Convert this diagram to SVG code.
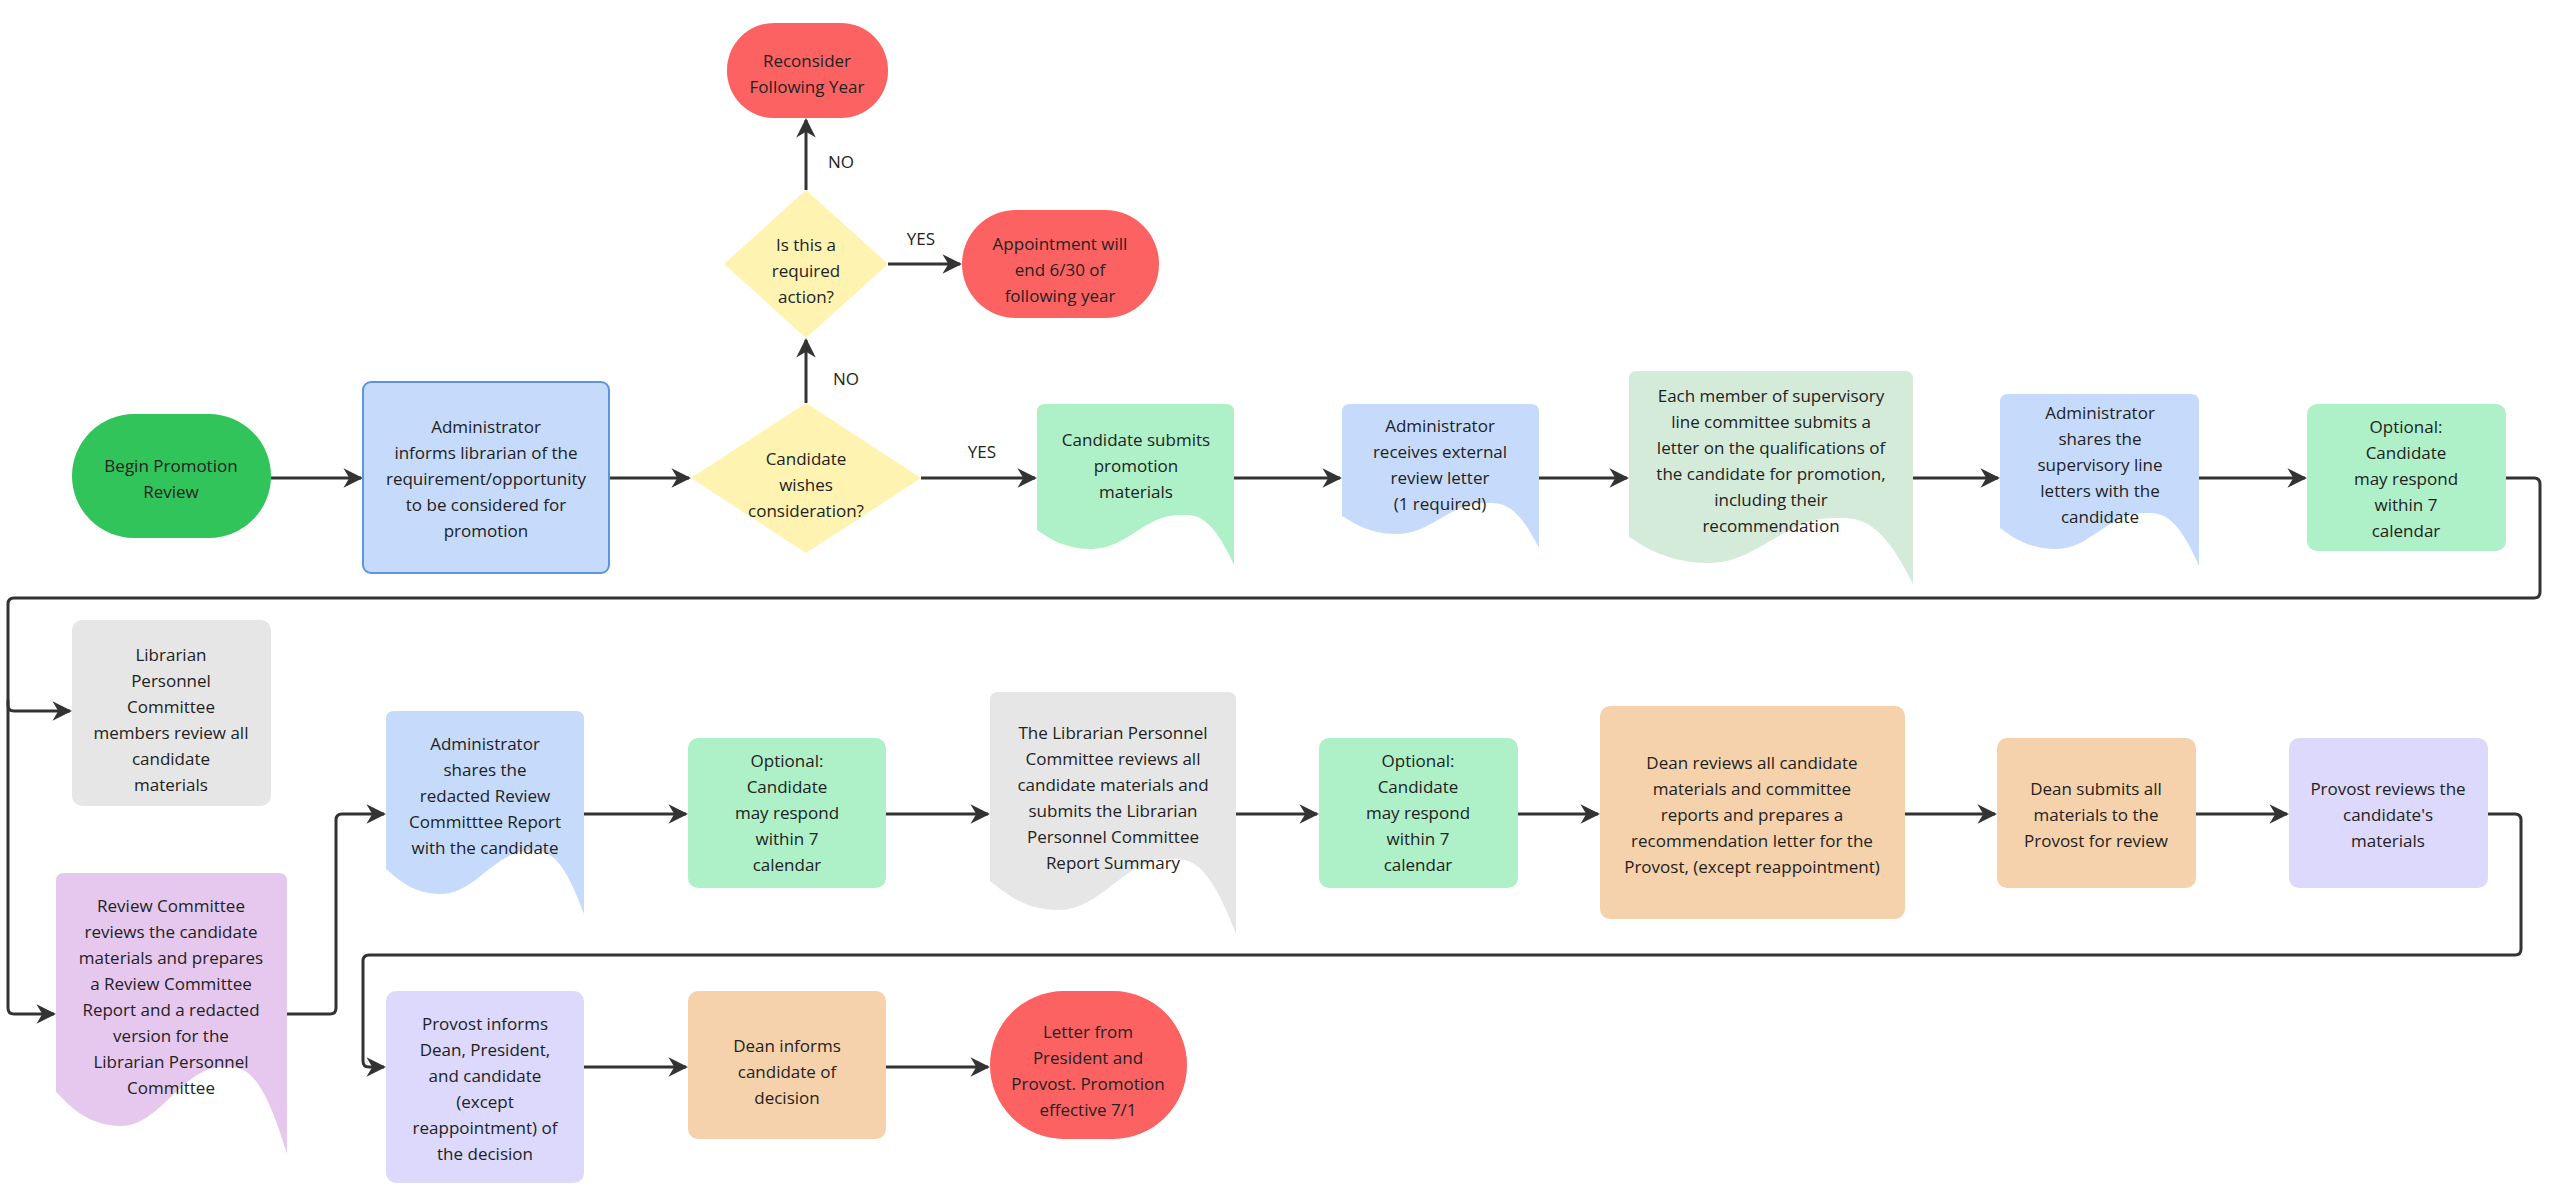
<svg xmlns="http://www.w3.org/2000/svg" width="2560" height="1203" viewBox="0 0 2560 1203">
<style>
text{font-family:"Open Sans","Noto Sans",sans-serif;font-size:17px;fill:#222;text-anchor:middle}
.c{fill:none;stroke:#333;stroke-width:3;stroke-linejoin:round}
.blue{fill:#c6dbfc}.green{fill:#aef0c8}.sage{fill:#d4ebda}.gray{fill:#e6e6e6}.purple{fill:#e6c8ee}.lav{fill:#dcd9fc}.orange{fill:#f6d2ac}.red{fill:#fd6262}.yellow{fill:#fef3b0}
</style>
<defs><marker id="a" viewBox="0 0 10 10" refX="9" refY="5" markerWidth="6.5" markerHeight="6.5" orient="auto" markerUnits="strokeWidth"><path d="M0,0 L10,5 L0,10 L3,5 Z" fill="#333"/></marker></defs>
<g id="connectors">
<path class="c" marker-end="url(#a)" d="M271,478 H361"/>
<path class="c" marker-end="url(#a)" d="M609,478 H689"/>
<path class="c" marker-end="url(#a)" d="M921,478 H1035"/>
<path class="c" marker-end="url(#a)" d="M1234,478 H1340"/>
<path class="c" marker-end="url(#a)" d="M1539,478 H1627"/>
<path class="c" marker-end="url(#a)" d="M1913,478 H1998"/>
<path class="c" marker-end="url(#a)" d="M2199,478 H2305"/>
<path class="c" marker-end="url(#a)" d="M806,403 V340"/>
<path class="c" marker-end="url(#a)" d="M806,190 V120"/>
<path class="c" marker-end="url(#a)" d="M888,264 H960"/>
<path class="c" marker-end="url(#a)" d="M2506,478 H2534 Q2540,478 2540,484 V592 Q2540,598 2534,598 H14 Q8,598 8,604 V705 Q8,711 14,711 H70"/>
<path class="c" marker-end="url(#a)" d="M8,700 V1008 Q8,1014 14,1014 H54"/>
<path class="c" marker-end="url(#a)" d="M287,1014 H330 Q336,1014 336,1008 V820 Q336,814 342,814 H384"/>
<path class="c" marker-end="url(#a)" d="M584,814 H686"/>
<path class="c" marker-end="url(#a)" d="M886,814 H988"/>
<path class="c" marker-end="url(#a)" d="M1236,814 H1317"/>
<path class="c" marker-end="url(#a)" d="M1518,814 H1598"/>
<path class="c" marker-end="url(#a)" d="M1905,814 H1995"/>
<path class="c" marker-end="url(#a)" d="M2196,814 H2287"/>
<path class="c" marker-end="url(#a)" d="M2488,814 H2515 Q2521,814 2521,820 V949 Q2521,955 2515,955 H369 Q363,955 363,961 V1061 Q363,1067 369,1067 H384"/>
<path class="c" marker-end="url(#a)" d="M584,1067 H686"/>
<path class="c" marker-end="url(#a)" d="M886,1067 H988"/>
<text x="982" y="458">YES</text>
<text x="846" y="385">NO</text>
<text x="841" y="168">NO</text>
<text x="921" y="245">YES</text>
</g>
<g id="begin"><rect x="72" y="414" width="199" height="124" rx="62" style="fill:#31c45a"/><text x="171" y="472">Begin Promotion</text><text x="171" y="498">Review</text></g>
<g id="admin-informs"><rect class="blue" x="363" y="382" width="246" height="191" rx="8" stroke="#5a95e0" stroke-width="2"/><text x="486" y="433">Administrator</text><text x="486" y="459">informs librarian of the</text><text x="486" y="485">requirement/opportunity</text><text x="486" y="511">to be considered for</text><text x="486" y="537">promotion</text></g>
<g id="wishes"><path class="yellow" d="M806,403 L921,478 L806,553 L691,478 Z"/><text x="806" y="465">Candidate</text><text x="806" y="491">wishes</text><text x="806" y="517">consideration?</text></g>
<g id="required"><path class="yellow" d="M806,190 L888,264 L806,338 L724,264 Z"/><text x="806" y="251">Is this a</text><text x="806" y="277">required</text><text x="806" y="303">action?</text></g>
<g id="reconsider"><rect class="red" x="727" y="23" width="161" height="95" rx="47"/><text x="807" y="67">Reconsider</text><text x="807" y="93">Following Year</text></g>
<g id="appointment"><rect class="red" x="962" y="210" width="197" height="108" rx="54"/><text x="1060" y="250">Appointment will</text><text x="1060" y="276">end 6/30 of</text><text x="1060" y="302">following year</text></g>
<g id="submits"><path class="green" d="M1045,404 H1226 Q1234,404 1234,412 V565 C1210,512 1195,515 1179,515 C1145,515 1126,549 1092,549 C1061,549 1045,535 1037,530 V412 Q1037,404 1045,404 Z"/><text x="1136" y="446">Candidate submits</text><text x="1136" y="472">promotion</text><text x="1136" y="498">materials</text></g>
<g id="external"><path class="blue" d="M1350,404 H1531 Q1539,404 1539,412 V548 C1515,500 1500,503 1484,503 C1450,503 1431,534 1397,534 C1366,534 1350,520 1342,516 V412 Q1342,404 1350,404 Z"/><text x="1440" y="432">Administrator</text><text x="1440" y="458">receives external</text><text x="1440" y="484">review letter</text><text x="1440" y="510">(1 required)</text></g>
<g id="each-member"><path class="sage" d="M1637,371 H1905 Q1913,371 1913,379 V584 C1879,514 1856,518 1833,518 C1785,518 1757,563 1709,563 C1663,563 1640,543 1629,537 V379 Q1629,371 1637,371 Z"/><text x="1771" y="402">Each member of supervisory</text><text x="1771" y="428">line committee submits a</text><text x="1771" y="454">letter on the qualifications of</text><text x="1771" y="480">the candidate for promotion,</text><text x="1771" y="506">including their</text><text x="1771" y="532">recommendation</text></g>
<g id="shares-supervisory"><path class="blue" d="M2008,394 H2191 Q2199,394 2199,402 V566 C2175,510 2159,513 2143,513 C2109,513 2090,549 2056,549 C2024,549 2008,533 2000,528 V402 Q2000,394 2008,394 Z"/><text x="2100" y="419">Administrator</text><text x="2100" y="445">shares the</text><text x="2100" y="471">supervisory line</text><text x="2100" y="497">letters with the</text><text x="2100" y="523">candidate</text></g>
<g id="optional1"><rect class="green" x="2307" y="404" width="199" height="147" rx="10"/><text x="2406" y="433">Optional:</text><text x="2406" y="459">Candidate</text><text x="2406" y="485">may respond</text><text x="2406" y="511">within 7</text><text x="2406" y="537">calendar</text></g>
<g id="lpc-members"><rect class="gray" x="72" y="620" width="199" height="186" rx="10"/><text x="171" y="661">Librarian</text><text x="171" y="687">Personnel</text><text x="171" y="713">Committee</text><text x="171" y="739">members review all</text><text x="171" y="765">candidate</text><text x="171" y="791">materials</text></g>
<g id="review-committee"><path class="purple" d="M64,873 H279 Q287,873 287,881 V1154 C259,1061 241,1067 222,1067 C183,1067 160,1126 121,1126 C84,1126 65,1100 56,1092 V881 Q56,873 64,873 Z"/><text x="171" y="912">Review Committee</text><text x="171" y="938">reviews the candidate</text><text x="171" y="964">materials and prepares</text><text x="171" y="990">a Review Committee</text><text x="171" y="1016">Report and a redacted</text><text x="171" y="1042">version for the</text><text x="171" y="1068">Librarian Personnel</text><text x="171" y="1094">Committee</text></g>
<g id="shares-redacted"><path class="blue" d="M394,711 H576 Q584,711 584,719 V914 C560,847 544,851 529,851 C495,851 475,894 441,894 C410,894 394,875 386,869 V719 Q386,711 394,711 Z"/><text x="485" y="750">Administrator</text><text x="485" y="776">shares the</text><text x="485" y="802">redacted Review</text><text x="485" y="828">Committtee Report</text><text x="485" y="854">with the candidate</text></g>
<g id="optional2"><rect class="green" x="688" y="738" width="198" height="150" rx="10"/><text x="787" y="767">Optional:</text><text x="787" y="793">Candidate</text><text x="787" y="819">may respond</text><text x="787" y="845">within 7</text><text x="787" y="871">calendar</text></g>
<g id="lpc-reviews"><path class="gray" d="M998,692 H1228 Q1236,692 1236,700 V934 C1206,854 1187,859 1167,859 C1125,859 1101,910 1059,910 C1020,910 1000,888 990,881 V700 Q990,692 998,692 Z"/><text x="1113" y="739">The Librarian Personnel</text><text x="1113" y="765">Committee reviews all</text><text x="1113" y="791">candidate materials and</text><text x="1113" y="817">submits the Librarian</text><text x="1113" y="843">Personnel Committee</text><text x="1113" y="869">Report Summary</text></g>
<g id="optional3"><rect class="green" x="1319" y="738" width="199" height="150" rx="10"/><text x="1418" y="767">Optional:</text><text x="1418" y="793">Candidate</text><text x="1418" y="819">may respond</text><text x="1418" y="845">within 7</text><text x="1418" y="871">calendar</text></g>
<g id="dean-reviews"><rect class="orange" x="1600" y="706" width="305" height="213" rx="10"/><text x="1752" y="769">Dean reviews all candidate</text><text x="1752" y="795">materials and committee</text><text x="1752" y="821">reports and prepares a</text><text x="1752" y="847">recommendation letter for the</text><text x="1752" y="873">Provost, (except  reappointment)</text></g>
<g id="dean-submits"><rect class="orange" x="1997" y="738" width="199" height="150" rx="10"/><text x="2096" y="795">Dean submits all</text><text x="2096" y="821">materials to the</text><text x="2096" y="847">Provost for review</text></g>
<g id="provost-reviews"><rect class="lav" x="2289" y="738" width="199" height="150" rx="10"/><text x="2388" y="795">Provost reviews the</text><text x="2388" y="821">candidate's</text><text x="2388" y="847">materials</text></g>
<g id="provost-informs"><rect class="lav" x="386" y="991" width="198" height="192" rx="10"/><text x="485" y="1030">Provost informs</text><text x="485" y="1056">Dean, President,</text><text x="485" y="1082">and candidate</text><text x="485" y="1108">(except</text><text x="485" y="1134">reappointment) of</text><text x="485" y="1160">the decision</text></g>
<g id="dean-informs"><rect class="orange" x="688" y="991" width="198" height="148" rx="10"/><text x="787" y="1052">Dean informs</text><text x="787" y="1078">candidate of</text><text x="787" y="1104">decision</text></g>
<g id="letter"><rect class="red" x="990" y="991" width="197" height="148" rx="74"/><text x="1088" y="1038">Letter from</text><text x="1088" y="1064">President and</text><text x="1088" y="1090">Provost. Promotion</text><text x="1088" y="1116">effective 7/1</text></g>
</svg>
